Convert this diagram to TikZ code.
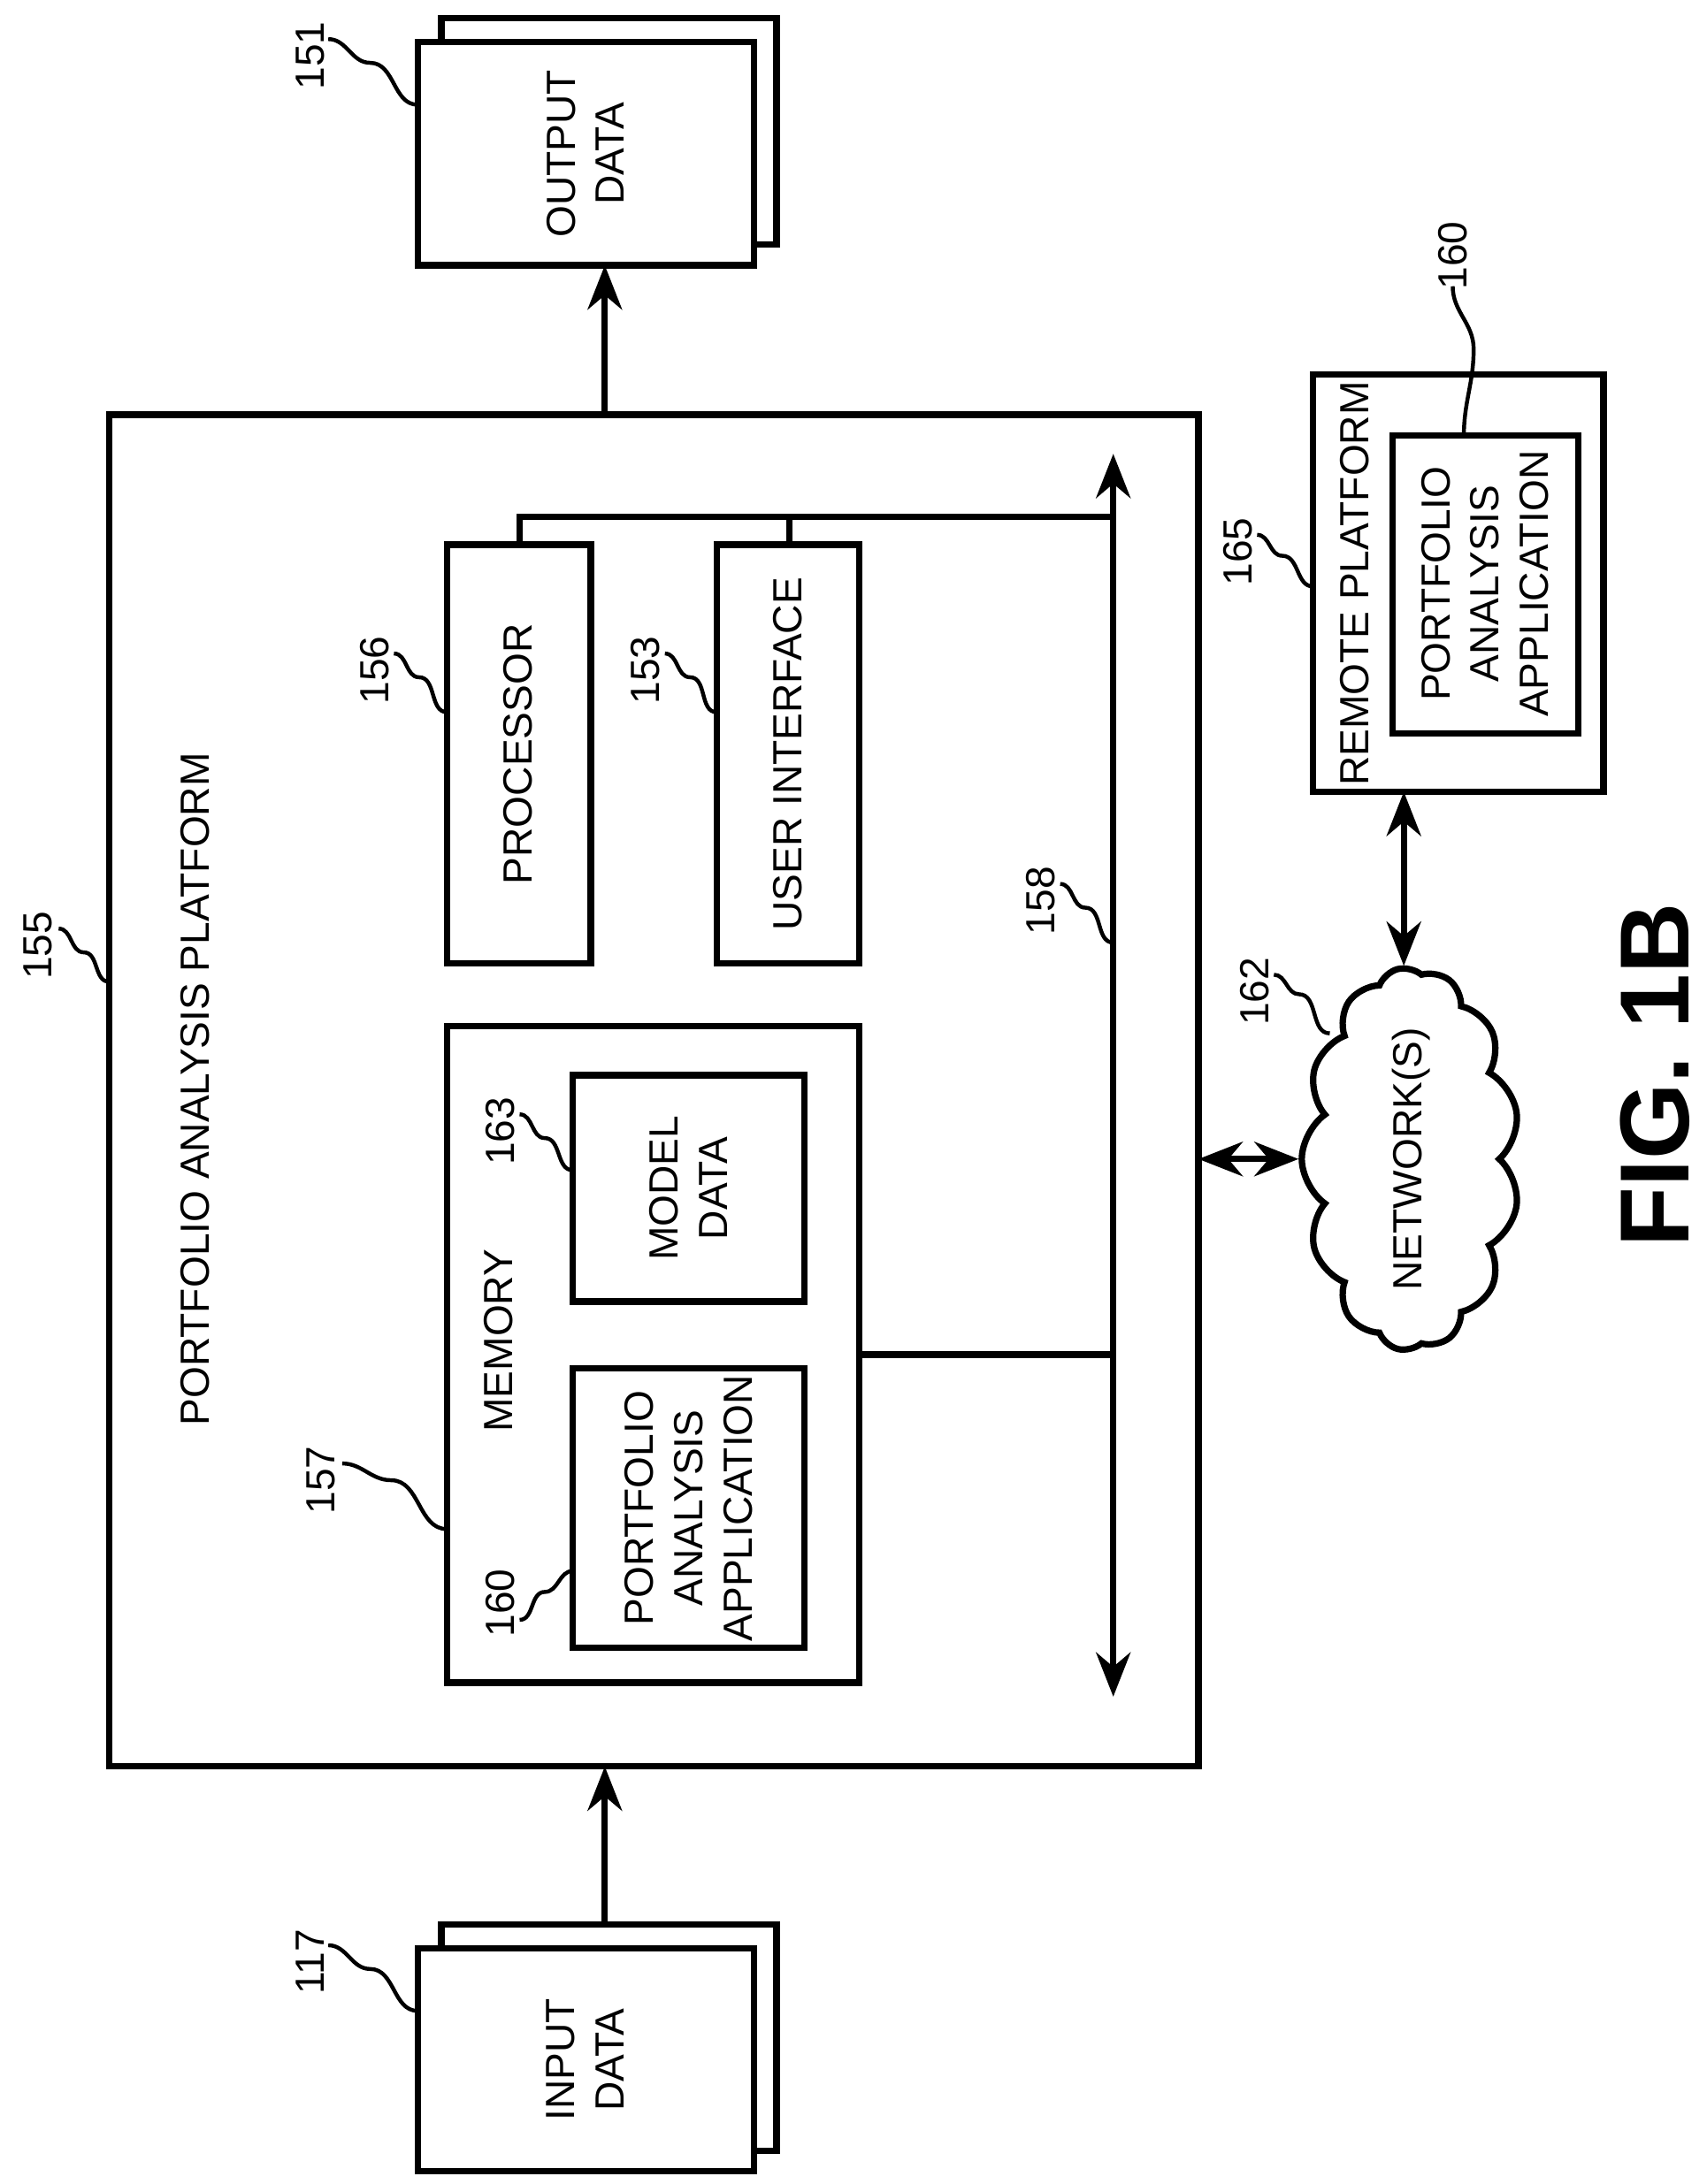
\documentclass[tikz,border=0pt]{standalone}
\usepackage{fontspec}
\setmainfont{Liberation Sans}
\usetikzlibrary{shapes.symbols,arrows.meta}
\begin{document}
\begin{tikzpicture}[x=0.01cm,y=-0.01cm,
  bx/.style={draw,line width=1.3pt,fill=white},
  tx/.style={rotate=90,align=center,font=\fontsize{8.3}{10}\selectfont},
  rf/.style={rotate=90,font=\fontsize{8.3}{10}\selectfont},
  ld/.style={line width=0.8pt},
  ar/.style={line width=1.3pt,-{Stealth[length=9pt,width=7pt]}},
  da/.style={line width=1.3pt,{Stealth[length=9pt,width=7pt]}-{Stealth[length=9pt,width=7pt]}}]
\useasboundingbox (0,0) rectangle (1222,1564);
% output data
\draw[bx] (316,13) rectangle (556,175);
\draw[bx] (299,30) rectangle (540,190);
\node[tx] (out) at (419,110) {OUTPUT\\DATA};
\coordinate (outb) at (433,190);
% input data
\draw[bx] (316,1378) rectangle (556,1540);
\draw[bx] (299,1395) rectangle (540,1555);
\node[tx] (in) at (419,1475) {INPUT\\DATA};
\coordinate (inT) at (433,1378);
% main box
\draw[bx] (78,297) rectangle (858,1265);
\coordinate (mT) at (433,297); \coordinate (mB) at (433,1265);
\draw[ar] (mT) -- (outb);
\draw[ar] (inT) -- (mB);
\node[rf] (t155) at (140,780) {PORTFOLIO ANALYSIS PLATFORM};
% processor, UI
\draw[bx] (320,390) rectangle (423,690); \node[tx] (proc) at (371,540) {PROCESSOR};
\draw[bx] (513,390) rectangle (615,690); \node[tx] (ui) at (564,540) {USER INTERFACE};
\draw[line width=1.3pt] (372,390) -- (372,370) -- (797,370);
\draw[line width=1.3pt] (565,390) -- (565,370);
% bus
\coordinate (busT) at (797,325); \coordinate (busB) at (797,1215);
\draw[da] (busT) -- (busB);
% memory
\draw[bx] (320,735) rectangle (615,1205);
\node[rf] (mem) at (357,960) {MEMORY};
\draw[bx] (410,770) rectangle (576,932); \node[tx] (md) at (493,851) {MODEL\\DATA};
\draw[bx] (410,980) rectangle (576,1180); \node[tx] (pa) at (493,1080) {PORTFOLIO\\ANALYSIS\\APPLICATION};
\draw[line width=1.3pt] (615,970) -- (797,970);
% network
\node[cloud,draw,line width=1.3pt,cloud puffs=13,cloud puff arc=110,aspect=2.1,minimum width=2.7cm,minimum height=1.3cm,inner sep=0pt,rotate=90,font=\fontsize{8.3}{10}\selectfont] (net) at (1010,830) {NETWORK(S)};
\coordinate (mR) at (858,830);
\draw[da] (mR) -- (net.north);
% remote
\draw[bx] (940,268) rectangle (1148,567);
\node[rf] (rp) at (970,418) {REMOTE PLATFORM};
\draw[bx] (997,312) rectangle (1130,525);
\node[tx] (rpa) at (1063,418) {PORTFOLIO\\ANALYSIS\\APPLICATION};
\coordinate (rpB) at (1005,567);
\draw[da] (rpB) -- (rpB |- net.east);
% fig
\node[rotate=90,font=\fontsize{20}{24}\selectfont\bfseries] (fig) at (1185,770) {FIG. 1B};
% reference labels
\node[rf] (r151) at (222,40) {151}; \draw[ld] (235,28) to[out=0,in=180] (265,45) to[out=0,in=180] (299,75);
\node[rf] (r117) at (222,1405) {117}; \draw[ld] (235,1393) to[out=0,in=180] (265,1410) to[out=0,in=180] (299,1440);
\node[rf] (r155) at (27,677) {155}; \draw[ld] (42,665) to[out=0,in=180] (60,682) to[out=0,in=180] (78,703);
\node[rf] (r156) at (268,480) {156}; \draw[ld] (282,468) to[out=0,in=180] (300,485) to[out=0,in=180] (320,510);
\node[rf] (r153) at (462,480) {153}; \draw[ld] (476,468) to[out=0,in=180] (494,485) to[out=0,in=180] (513,510);
\node[rf] (r158) at (745,645) {158}; \draw[ld] (759,633) to[out=0,in=180] (777,650) to[out=0,in=180] (797,675);
\node[rf] (r157) at (230,1060) {157}; \draw[ld] (245,1048) to[out=0,in=180] (280,1060) to[out=0,in=180] (320,1095);
\node[rf] (r163) at (358,810) {163}; \draw[ld] (372,798) to[out=0,in=180] (390,815) to[out=0,in=180] (410,838);
\node[rf] (r160) at (358,1148) {160}; \draw[ld] (372,1160) to[out=0,in=180] (390,1140) to[out=0,in=180] (410,1125);
\node[rf] (r162) at (898,710) {162}; \draw[ld] (912,698) to[out=0,in=180] (930,712) to[out=0,in=180] (952,740);
\node[rf] (r165) at (886,395) {165}; \draw[ld] (900,383) to[out=0,in=180] (918,398) to[out=0,in=180] (940,420);
\node[rf] (r160b) at (1040,183) {160}; \draw[ld] (1040,205) to[out=-90,in=90] (1055,250) to[out=-90,in=90] (1048,312);
\end{tikzpicture}
\end{document}
